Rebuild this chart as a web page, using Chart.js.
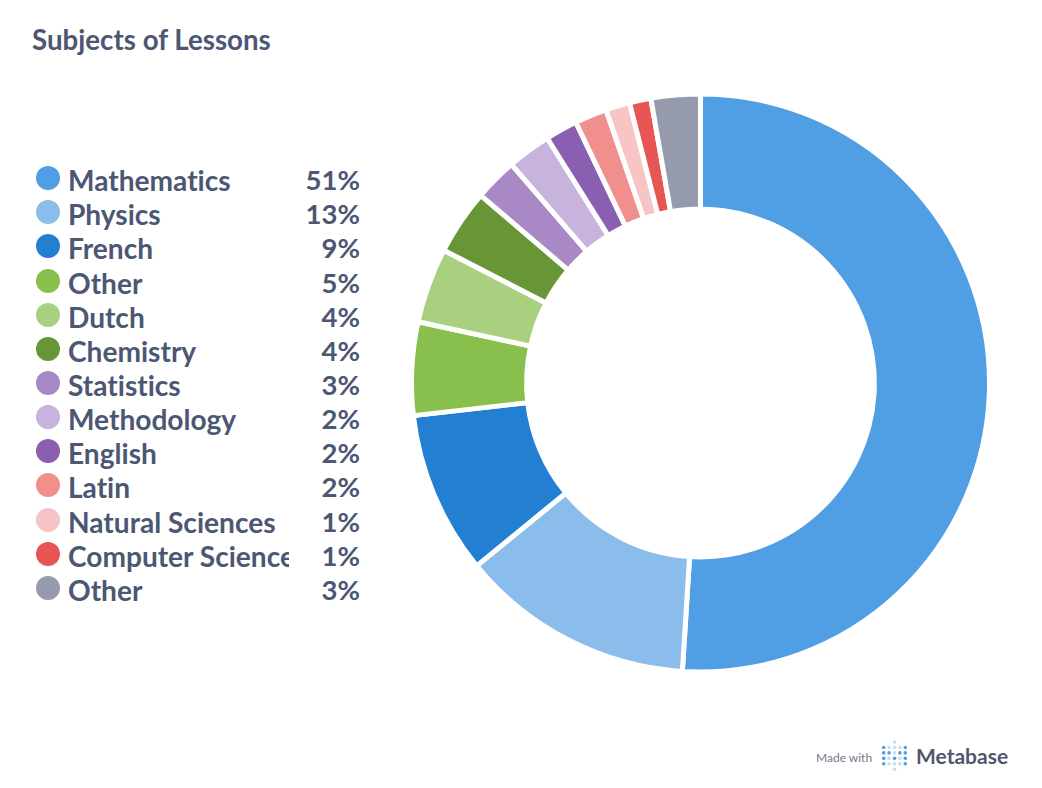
<!DOCTYPE html>
<html>
<head>
<meta charset="utf-8">
<title>Subjects of Lessons</title>
<script src="https://cdn.jsdelivr.net/npm/chart.js@4"></script>
<style>
    html, body { margin: 0; padding: 0; background: #fff; }
    body { width: 1042px; height: 788px; position: relative; overflow: hidden; font-family: Lato, sans-serif; color: #4c5773; font-variant-ligatures: none; }
    #title { position: absolute; left: 32px; top: 23px; font-size: 27.7px; font-weight: 700; line-height: 34px; }
    #chartBox { position: absolute; left: 400px; top: 83px; width: 601px; height: 600px; }
    #legend { position: absolute; left: 36px; top: 163.1px; width: 324px; }
    .row { position: relative; height: 34.15px; font-size: 28.1px; font-weight: 700; line-height: 34px; }
    .dot { position: absolute; left: 0; top: 3px; width: 24px; height: 24px; border-radius: 50%; }
    .name { position: absolute; left: 32px; top: 0; width: 221px; overflow: hidden; white-space: nowrap; }
    .pct { position: absolute; right: 0; top: 0; font-size: 27.5px; }
    #footer { position: absolute; left: 816px; top: 740px; width: 200px; height: 34px; }
    #made { position: absolute; left: 0; top: 9px; font-size: 12px; line-height: 17px; color: #74798a; }
    #logo { position: absolute; left: 65px; top: 0; }
    #brand { position: absolute; left: 100px; top: 1px; font-size: 21px; font-weight: 700; line-height: 30px; color: #50566b; }
</style>
</head>
<body>
<div id="title">Subjects of Lessons</div>
<div id="legend"></div>
<div id="chartBox"><canvas id="lessonsChart" width="601" height="600"></canvas></div>
<div id="footer">
    <div id="made">Made with</div>
    <svg id="logo" width="28" height="32"></svg>
    <div id="brand">Metabase</div>
</div>
<script>
const subjects = ['Mathematics', 'Physics', 'French', 'Other', 'Dutch', 'Chemistry', 'Statistics', 'Methodology', 'English', 'Latin', 'Natural Sciences', 'Computer Science', 'Other'];
const shares = [51.0, 13.1, 9.1, 5.2, 4.2, 3.65, 2.4, 2.45, 1.8, 1.8, 1.35, 1.2, 2.75];
const shareLabels = ['51%', '13%', '9%', '5%', '4%', '4%', '3%', '2%', '2%', '2%', '1%', '1%', '3%'];
const colors = ['#509ee3', '#8abcec', '#227fd2', '#88bf4d', '#a9d07f', '#689636', '#a989c5', '#c7b3dc', '#8a5eb0', '#f18e8e', '#f7c5c5', '#e85555', '#959aad'];

// Leyenda
const legend = document.getElementById('legend');
subjects.forEach((name, i) => {
    const row = document.createElement('div');
    row.className = 'row';
    row.innerHTML = '<span class="dot" style="background:' + colors[i] + '"></span>' +
        '<span class="name">' + name + '</span><span class="pct">' + shareLabels[i] + '</span>';
    legend.appendChild(row);
});

// Logo
const logoRows = ['..l..', 'sllls', 'sslss', 'slsls', 'sllls', '..l..'];
let dots = '';
logoRows.forEach((line, r) => {
    line.split('').forEach((kind, c) => {
        if (kind === '.') return;
        dots += '<circle cx="' + (2.7 + c * 5.4) + '" cy="' + (2 + r * 5.45) + '" r="1.8" fill="' +
            (kind === 's' ? '#509ee3' : '#c5def5') + '"/>';
    });
});
document.getElementById('logo').innerHTML = dots;

// Gráfico
new Chart(document.getElementById('lessonsChart').getContext('2d'), {
    type: 'doughnut',
    data: {
        labels: subjects,
        datasets: [{
            data: shares,
            backgroundColor: colors,
            borderColor: '#ffffff',
            borderWidth: 5
        }]
    },
    options: {
        responsive: false,
        animation: false,
        radius: 289,
        cutout: 179,
        plugins: {
            legend: { display: false },
            tooltip: { enabled: false }
        }
    }
});
</script>
</body>
</html>
